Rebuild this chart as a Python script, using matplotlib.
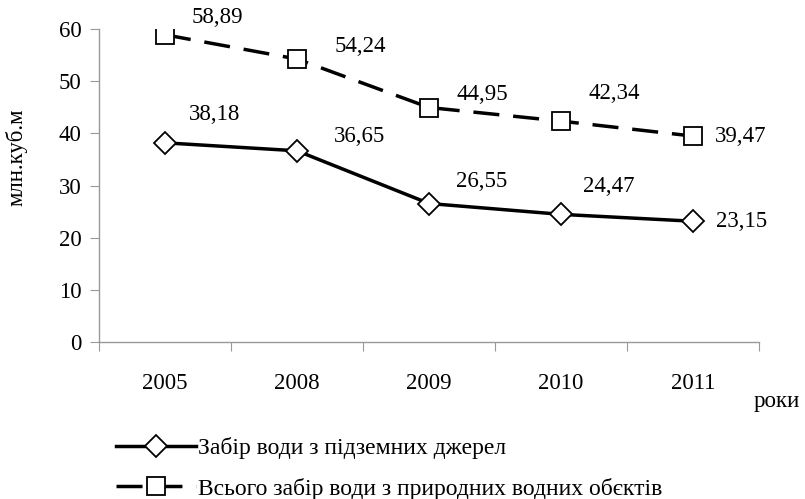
import matplotlib.pyplot as plt

plt.rcParams['font.family'] = ['Liberation Serif', 'DejaVu Serif']

roky = ['2005', '2008', '2009', '2010', '2011']
pidzemni = [38.18, 36.65, 26.55, 24.47, 23.15]
vsogo = [58.89, 54.24, 44.95, 42.34, 39.47]
nazva_1 = 'Забір води з підземних джерел'
nazva_2 = 'Всього забір води з природних водних обєктів'

# зсуви підписів у пікселях (dx, dy)
zsuv_1 = [(50, 28), (62, 14), (53, 22), (48, 28), (48, 0)]
zsuv_2 = [(52, 17), (63, 13), (53, 13), (53, 28), (48, 0)]

fig = plt.figure(figsize=(8.05, 4.99), dpi=100)
ax = fig.add_axes([0.123, 0.3146, 0.82, 0.6273])

x = list(range(len(roky)))
ax.plot(x, vsogo, color='black', lw=2.5, ls=(0, (7.5, 4)), marker='s', ms=13,
        mfc='white', mec='black', mew=1.3, label=nazva_2)
ax.plot(x, pidzemni, color='black', lw=2.5, marker='D', ms=11,
        mfc='white', mec='black', mew=1.3, label=nazva_1)

for xi, v, (dx, dy) in zip(x, pidzemni, zsuv_1):
    ax.annotate(f'{v:.2f}'.replace('.', ','), (xi, v), xytext=(dx, dy),
                textcoords='offset pixels', ha='center', va='center', fontsize=16.5)
for xi, v, (dx, dy) in zip(x, vsogo, zsuv_2):
    ax.annotate(f'{v:.2f}'.replace('.', ','), (xi, v), xytext=(dx, dy),
                textcoords='offset pixels', ha='center', va='center', fontsize=16.5)

ax.set_xlim(-0.5, len(roky) - 0.5)
ax.set_ylim(0, 60)
ax.set_yticks(range(0, 61, 10))
ax.set_xticks([i - 0.5 for i in range(len(roky) + 1)])
ax.set_xticklabels([])
ax.set_xticks(x, minor=True)
ax.set_xticklabels(roky, minor=True)
ax.tick_params(axis='x', which='minor', length=0, pad=22, labelsize=16.5)
ax.tick_params(axis='x', which='major', length=6.5, color='#999999')
ax.tick_params(axis='y', length=6.5, color='#999999', labelsize=16.5, pad=6)

for s in ['top', 'right']:
    ax.spines[s].set_visible(False)
for s in ['left', 'bottom']:
    ax.spines[s].set_color('#999999')
    ax.spines[s].set_linewidth(1)

ax.set_ylabel('млн.куб.м', fontsize=16.5)
ax.yaxis.set_label_coords(-0.109, 0.59)
ax.text(1.027, -0.19, 'роки', transform=ax.transAxes, fontsize=16.5,
        ha='center', va='center')

h, l = ax.get_legend_handles_labels()
fig.legend(h[::-1], l[::-1], loc='upper left', bbox_to_anchor=(0.135, 0.138),
           frameon=False, fontsize=17, handlelength=3.4, handletextpad=0.1,
           labelspacing=0.78, borderaxespad=0, borderpad=0.3)

fig.savefig('out.png', dpi=100)
